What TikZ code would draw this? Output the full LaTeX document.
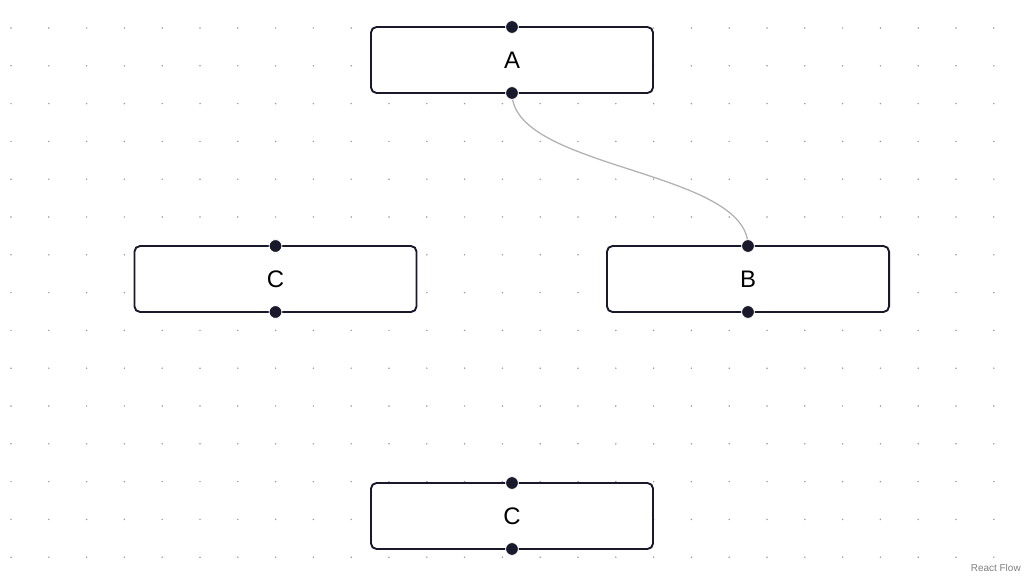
\documentclass[tikz,border=0pt]{standalone}
\usepackage{fontspec}
\setmainfont{Liberation Sans}
\usepackage{tikz}
\usetikzlibrary{positioning}

\definecolor{flowink}{HTML}{1A192B}
\definecolor{edgegray}{HTML}{B1B1B7}
\definecolor{dotgray}{HTML}{9A9AA2}

\begin{document}
\begin{tikzpicture}[
    x=0.025cm, y=-0.025cm,
    flownode/.style={rectangle, draw=flowink, line width=1.35pt, fill=white, rounded corners=4pt, minimum width=7.05cm, minimum height=1.65cm, inner sep=0pt, outer sep=0pt, font=\fontsize{17}{20}\selectfont},
    handle/.style={circle, fill=flowink, draw=white, line width=0.6pt, minimum size=0.32cm, inner sep=0pt},
    flowedge/.style={draw=edgegray, line width=0.9pt}
]
    \useasboundingbox (0,0) rectangle (1024,576);
    \fill[white] (0,0) rectangle (1024,576);
    % background dots
    \foreach \i in {0,...,26}
        \foreach \j in {0,...,14}
            \fill[dotgray] (11+37.8*\i, 28+37.8*\j) circle (0.6pt);

    \node [flownode] (A) at (512,60) {A};
    \node [flownode] (C) at (275.5,279) {C};
    \node [flownode] (B) at (748,279) {B};
    \node [flownode] (C2) at (512,516) {C};

    \draw [flowedge] (A.south) .. controls +(0,76.5) and +(0,-76.5) .. (B.north);

    % handles
    \foreach \n in {A,B,C,C2} {
        \node [handle] (\n-in) at (\n.north) {};
        \node [handle] (\n-out) at (\n.south) {};
    }

    \node [anchor=base east, inner sep=0pt, text=gray, font=\fontsize{7.1}{8}\selectfont] (attribution) at (1021,571) {React Flow};
\end{tikzpicture}
\end{document}
